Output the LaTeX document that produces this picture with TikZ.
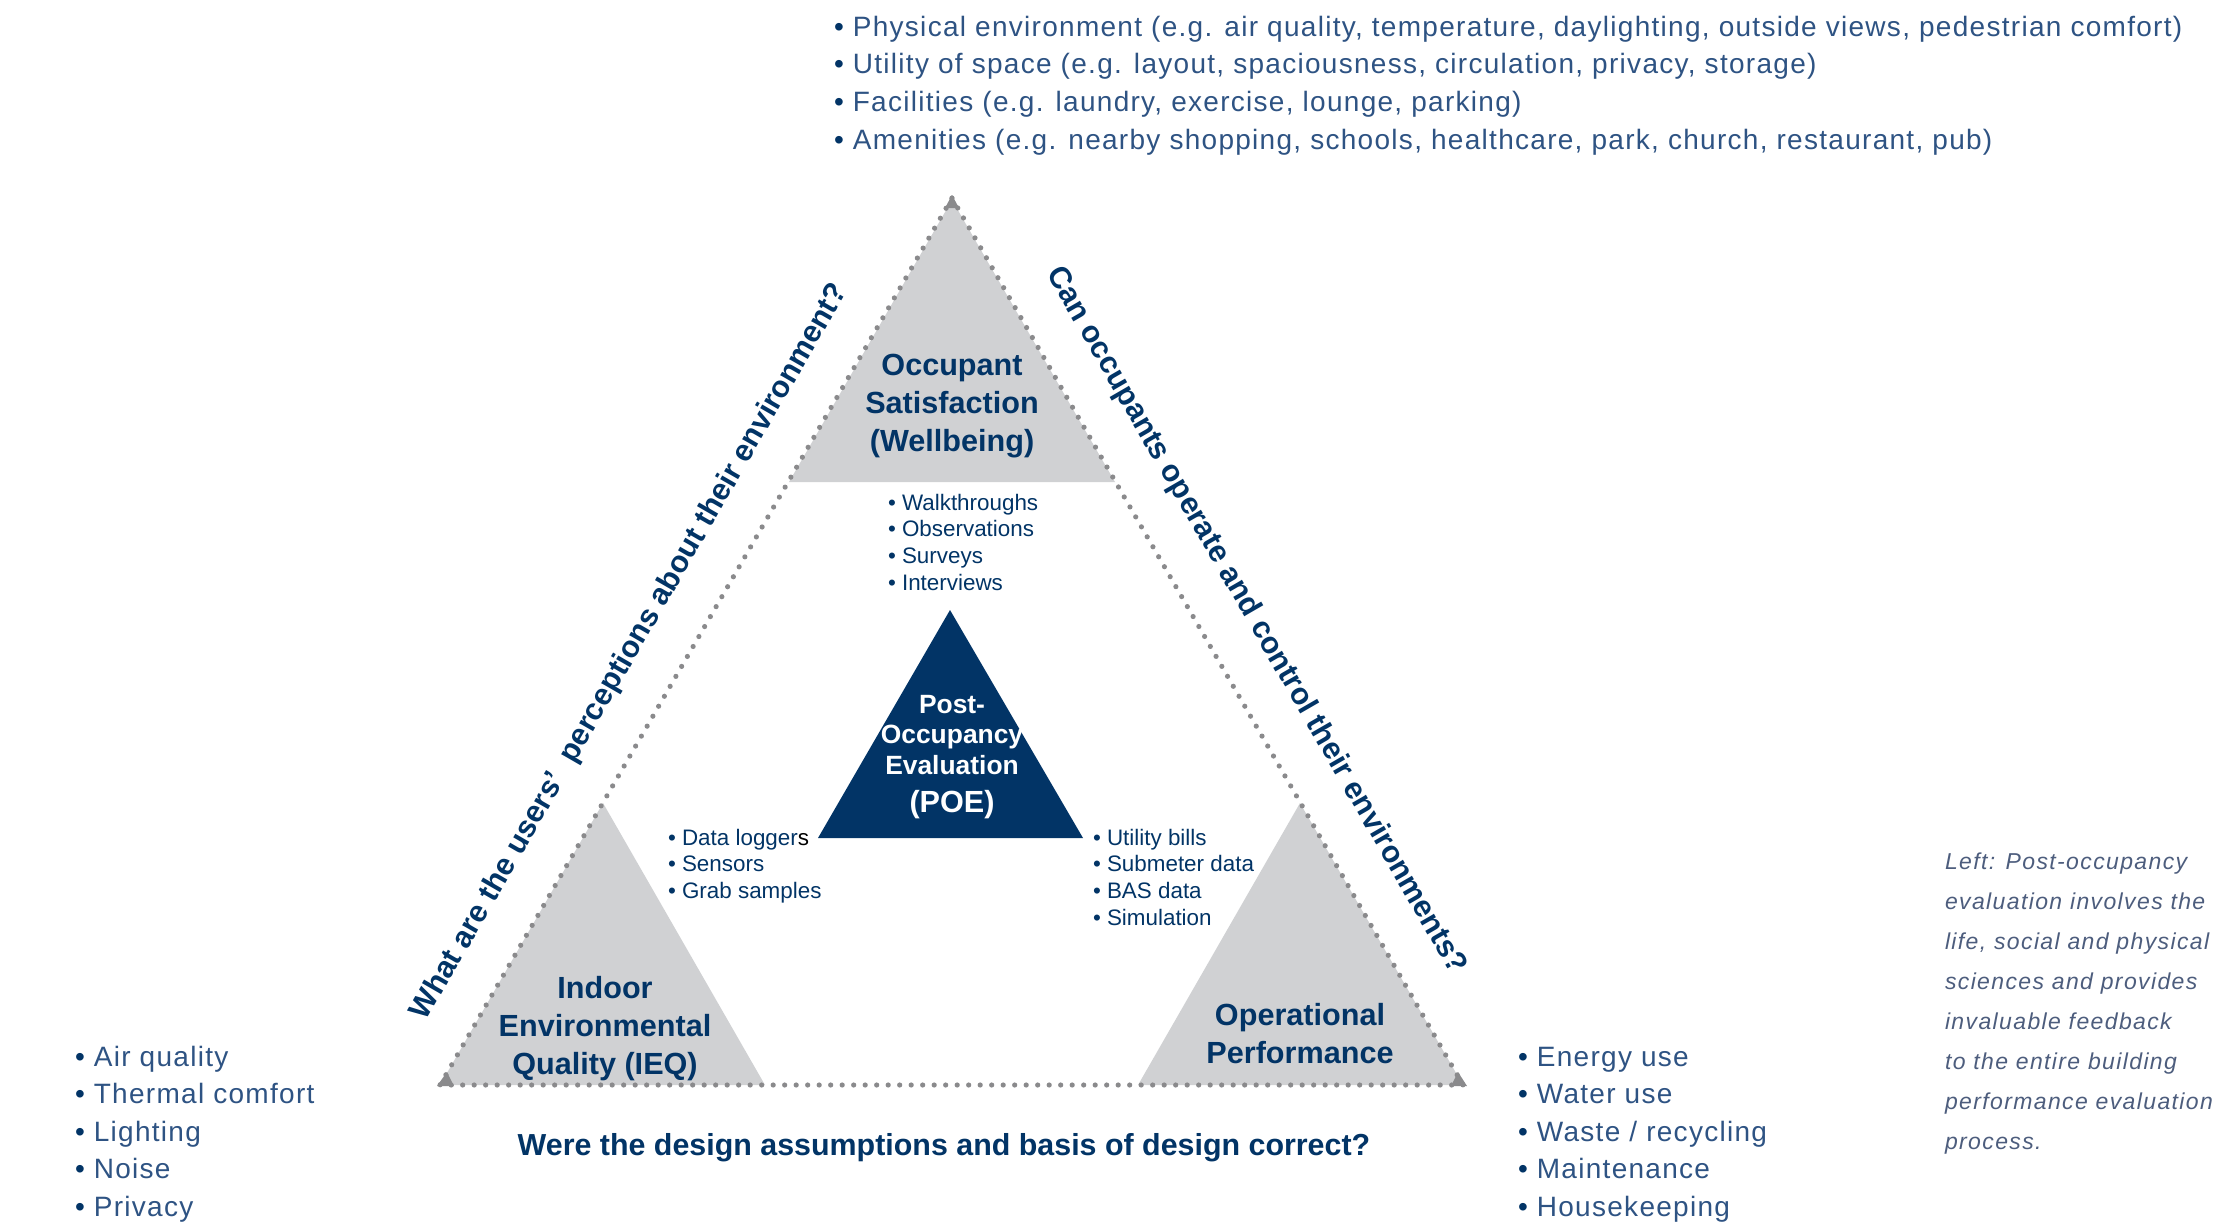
\documentclass[tikz,border=0pt]{standalone}
\usepackage{fontspec}
\setmainfont{Liberation Sans}
\definecolor{navy}{HTML}{023466}
\definecolor{tri}{HTML}{D0D1D3}
\definecolor{dotc}{HTML}{8A8A8C}
\definecolor{listc}{HTML}{2E5383}
\definecolor{capc}{HTML}{4D5D7D}
\begin{document}
\begin{tikzpicture}[x=0.5pt,y=-0.5pt,inner sep=0pt,outer sep=0pt,
  bigl/.style={align=center,text=navy,font=\fontsize{15.3}{19}\selectfont\bfseries},
  poelbl/.style={align=center,text=white,font=\fontsize{13.2}{15.3}\selectfont\bfseries},
  smalll/.style={anchor=mid west,text=navy,font=\fontsize{11.2}{13.4}\selectfont},
  bigli/.style={anchor=mid west,text=listc,font=\fontsize{14}{16}\selectfont\addfontfeature{LetterSpace=4.6}},
  capl/.style={anchor=mid west,text=capc,font=\fontsize{11.5}{14}\selectfont\itshape\addfontfeature{LetterSpace=6}},
  qlbl/.style={text=navy,font=\fontsize{15.2}{17}\selectfont\bfseries},
  dotline/.style={draw=dotc,line width=2.6pt,line cap=round,dash pattern=on 0pt off 5.75pt}]
\useasboundingbox (0,0) rectangle (2238,1222);
% corners of the outer triangle
\coordinate (A) at (952,198);
\coordinate (B) at (440,1085);
\coordinate (C) at (1463,1085);
% grey triangles
\fill[tri] (952,200) -- (1115,482) -- (789,482) -- cycle;
\fill[tri] (603,803) -- (765,1085) -- (440,1085) -- cycle;
\fill[tri] (1300,803) -- (1463,1085) -- (1138,1085) -- cycle;
% navy triangle
\fill[navy] (950,610) -- (1083,838) -- (818,838) -- cycle;
% dotted outer triangle
\draw[dotline] (A) -- (C) -- (B) -- cycle;
\fill[dotc] (952,195) -- (959,208) -- (945,208) -- cycle;
\fill[dotc] (437,1086) -- (454,1086) -- (447,1072) -- cycle;
\fill[dotc] (1467,1086) -- (1451,1086) -- (1458,1072) -- cycle;
% main labels
\node[bigl] (os) at (952,406) {Occupant\\Satisfaction\\(Wellbeing)};
\node[bigl] (ieq) at (605,1029) {Indoor\\Environmental\\Quality (IEQ)};
\node[bigl] (op) at (1300,1034) {Operational\\Performance};
\node[poelbl] (poe) at (952,757) {Post-\\Occupancy\\Evaluation\\[4pt]{\fontsize{15.3}{17}\selectfont (POE)}};
% small lists
\foreach \t [count=\i] in {Walkthroughs,Observations,Surveys,Interviews}
  \node[smalll] (ws\i) at (888,{505+26.7*(\i-1)}) {•\ \t};
\node[smalll] (dl1) at (668,840) {•\ Data logger{\color{black}s}};
\foreach \t [count=\i] in {Sensors,Grab samples}
  \node[smalll] (dl\i b) at (668,{866.7+26.7*(\i-1)}) {•\ \t};
\foreach \t [count=\i] in {Utility bills,Submeter data,BAS data,Simulation}
  \node[smalll] (ub\i) at (1093,{840+26.7*(\i-1)}) {•\ \t};
% big lists
\foreach \t [count=\i] in {{Physical environment (e.g. air quality, temperature, daylighting, outside views, pedestrian comfort)},{Utility of space (e.g. layout, spaciousness, circulation, privacy, storage)},{Facilities (e.g. laundry, exercise, lounge, parking)},{Amenities (e.g. nearby shopping, schools, healthcare, park, church, restaurant, pub)}}
  \node[bigli] (tl\i) at (834,{31+37.7*(\i-1)}) {{\color{navy}•} \t};
\foreach \t [count=\i] in {Air quality,Thermal comfort,Lighting,Noise,Privacy}
  \node[bigli] (ll\i) at (75,{1061+37.5*(\i-1)}) {{\color{navy}•} \t};
\foreach \t [count=\i] in {Energy use,Water use,Waste / recycling,Maintenance,Housekeeping}
  \node[bigli] (rl\i) at (1518,{1061+37.5*(\i-1)}) {{\color{navy}•} \t};
% caption
\foreach \t [count=\i] in {Left: Post-occupancy,evaluation involves the,{life, social and physical},sciences and provides,invaluable feedback,to the entire building,performance evaluation,process.}
  \node[capl] (cp\i) at (1945,{864+40*(\i-1)}) {\t};
% questions
\node[qlbl,rotate=60] (q1) at (630,652) {What are the users’\ \ perceptions about their environment?};
\node[qlbl,rotate=-60] (q2) at (1256,621) {Can occupants operate and control their environments?};
\node[qlbl] (q3) at (944,1148) {Were the design assumptions and basis of design correct?};
\end{tikzpicture}
\end{document}
